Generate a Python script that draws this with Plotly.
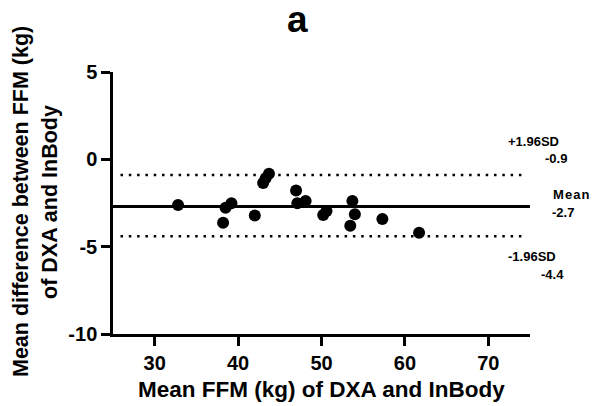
import plotly.graph_objects as go

# Data
mean_ffm = [32.8, 38.2, 38.5, 39.2, 42.0, 43.0, 43.3, 43.7, 46.95, 47.1, 48.1,
            50.2, 50.6, 53.7, 54.0, 53.45, 57.3, 61.7]
diff_ffm = [-2.62, -3.63, -2.77, -2.52, -3.21, -1.36, -1.09, -0.82, -1.78, -2.52, -2.39,
            -3.19, -2.96, -2.39, -3.15, -3.80, -3.42, -4.20]
bias = -2.7
upper_loa = -0.9
lower_loa = -4.4
x_ticks = [30, 40, 50, 60, 70]
y_ticks = [5, 0, -5, -10]
x_range = [25, 75]
y_range = [-10, 5]

FONT = "Liberation Sans, Arial, sans-serif"

W, H = 593, 406
# plot area in pixels
L, R, T, B = 113, 530, 72, 334

def px(xp):
    return (xp - L) / (R - L)

def py(yp):
    return (B - yp) / (B - T)

fig = go.Figure()
fig.add_trace(go.Scatter(x=mean_ffm, y=diff_ffm, mode="markers",
                         marker=dict(size=12, color="black"), showlegend=False,
                         cliponaxis=False))

fig.add_shape(type="line", xref="x", yref="y", x0=x_range[0], x1=x_range[1],
              y0=bias, y1=bias, line=dict(color="black", width=3), layer="below")
for v in (upper_loa, lower_loa):
    fig.add_shape(type="line", xref="x", yref="y", x0=x_range[0] + 0.9, x1=x_range[1] - 1.0,
                  y0=v, y1=v, line=dict(color="black", width=2.5, dash="2.5px,5.8px"),
                  layer="below")

ann_font = dict(family=FONT, size=13, color="black")
labels = [
    ("<b>+1.96SD</b>", 533, 141),
    (f"<b>{upper_loa:.1f}</b>", 556, 158),
    ("<b>M\u200ae\u200aa\u200an</b>", 571, 194),
    (f"<b>{bias:.1f}</b>", 563, 212),
    ("<b>-1.96SD</b>", 532, 256),
    (f"<b>{lower_loa:.1f}</b>", 552, 274),
]
for text, xx, yy in labels:
    fig.add_annotation(text=text, xref="paper", yref="paper", x=px(xx), y=py(yy),
                       xanchor="center", yanchor="middle", showarrow=False, font=ann_font)

# axis titles
fig.add_annotation(text="<b>Mean FFM (kg) of DXA and InBody</b>", xref="paper", yref="paper",
                   x=px(321), y=py(389), xanchor="center", yanchor="middle", showarrow=False,
                   font=dict(family=FONT, size=22.5, color="black"))
fig.add_annotation(text="<b>Mean difference between FFM (kg)</b>",
                   xref="paper", yref="paper", x=px(21), y=py(202), xanchor="center",
                   yanchor="middle", showarrow=False, textangle=-90,
                   font=dict(family=FONT, size=21.5, color="black"))
fig.add_annotation(text="<b>of DXA and InBody</b>",
                   xref="paper", yref="paper", x=px(50), y=py(202), xanchor="center",
                   yanchor="middle", showarrow=False, textangle=-90,
                   font=dict(family=FONT, size=21.5, color="black"))
fig.add_annotation(text="<b>a</b>", xref="paper", yref="paper", x=px(297), y=py(20),
                   xanchor="center", yanchor="middle", showarrow=False,
                   font=dict(family=FONT, size=37, color="black"))

axis_common = dict(showgrid=False, zeroline=False, showline=True, linecolor="black",
                   linewidth=2.5, ticks="outside", ticklen=9, tickwidth=2.5, tickcolor="black",
                   tickfont=dict(family=FONT, size=20, color="black"))
fig.update_xaxes(range=x_range, tickvals=x_ticks, ticktext=[f"<b>{t}</b>" for t in x_ticks],
                 **axis_common)
fig.update_yaxes(range=y_range, tickvals=y_ticks, ticktext=[f"<b>{t}</b>" for t in y_ticks],
                 **axis_common)

fig.update_layout(width=W, height=H,
                  margin=dict(l=L, r=W - R, t=T, b=H - B),
                  plot_bgcolor="white", paper_bgcolor="white")

fig.write_html("out.html", config={"displayModeBar": False},
               post_script="document.body.style.margin='0';document.body.style.overflow='hidden';")
